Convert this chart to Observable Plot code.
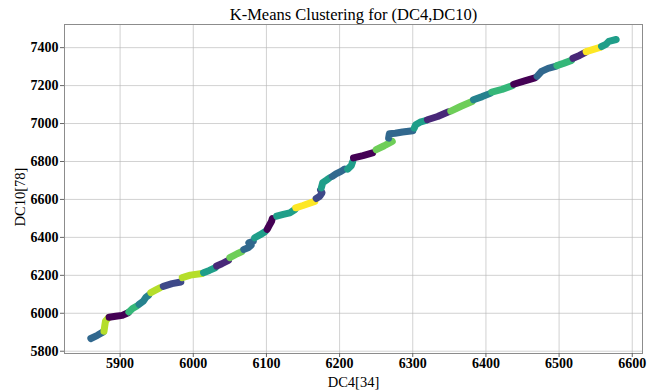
<!DOCTYPE html>
<html><head><meta charset="utf-8">
<script src="https://cdn.jsdelivr.net/npm/d3@7"></script>
<script src="https://cdn.jsdelivr.net/npm/@observablehq/plot@0.6"></script>
<style>
body{margin:0;background:#fff;}
#chart{width:658px;height:391px;}
</style></head><body><div id="chart"></div>
<script>
// DC4[34] values along the trace
const dc4 = [
  5860, 5869, 5877,
  5878, 5879, 5880, 5884,
  5885, 5894, 5903, 5911,
  5912, 5917, 5923,
  5926, 5932, 5935, 5939,
  5942, 5949, 5955,
  5959, 5971, 5983,
  5985, 5996, 6012,
  6014, 6022, 6030,
  6032, 6039, 6048,
  6050, 6060, 6066,
  6069, 6075, 6079, 6076, 6082,
  6084, 6091, 6098,
  6101, 6103, 6107, 6108,
  6114, 6123, 6132, 6139,
  6140, 6150, 6166,
  6168, 6173, 6176, 6174,
  6175, 6177, 6182, 6186,
  6190, 6195, 6202, 6207,
  6211, 6216, 6218,
  6219, 6232, 6245,
  6250, 6261, 6272,
  6267, 6268, 6276, 6286, 6300,
  6302, 6304, 6310, 6318,
  6320, 6334, 6349,
  6352, 6366, 6381,
  6383, 6395, 6406,
  6408, 6422, 6436,
  6438, 6453, 6467,
  6470, 6476, 6485, 6495,
  6497, 6506, 6517,
  6519, 6528, 6536,
  6537, 6547, 6556,
  6558, 6564, 6568, 6578
];
// DC10[78] values along the trace
const dc10 = [
  5867, 5884, 5902,
  5905, 5933, 5958, 5977,
  5979, 5984, 5989, 6003,
  6007, 6025, 6038,
  6047, 6065, 6083, 6095,
  6109, 6123, 6135,
  6142, 6156, 6165,
  6188, 6201, 6210,
  6214, 6226, 6240,
  6249, 6261, 6279,
  6293, 6314, 6324,
  6336, 6345, 6358, 6371, 6380,
  6398, 6413, 6430,
  6442, 6457, 6485, 6499,
  6512, 6521, 6529, 6547,
  6556, 6568, 6590,
  6605, 6617, 6635, 6649,
  6661, 6689, 6702, 6713,
  6722, 6735, 6748, 6760,
  6760, 6778, 6801,
  6819, 6831, 6845,
  6862, 6883, 6906,
  6923, 6946, 6949, 6955, 6962,
  6976, 6994, 7007, 7016,
  7020, 7037, 7062,
  7065, 7091, 7116,
  7125, 7142, 7159,
  7166, 7180, 7199,
  7207, 7225, 7241,
  7249, 7275, 7291, 7301,
  7305, 7317, 7333,
  7344, 7359, 7375,
  7379, 7391, 7401,
  7406, 7417, 7433, 7443
];
// K-Means cluster label of each point
const cluster = [
  3, 3, 3,
  8, 8, 8, 8,
  0, 0, 0, 0,
  6, 6, 6,
  4, 4, 4, 4,
  8, 8, 8,
  2, 2, 2,
  8, 8, 8,
  5, 5, 5,
  1, 1, 1,
  7, 7, 7,
  3, 3, 3, 3, 3,
  5, 5, 5,
  0, 0, 0, 0,
  5, 5, 5, 5,
  9, 9, 9,
  2, 2, 2, 2,
  5, 5, 5, 5,
  3, 3, 3, 3,
  5, 5, 5,
  0, 0, 0,
  7, 7, 7,
  3, 3, 3, 3, 3,
  5, 5, 5, 5,
  1, 1, 1,
  7, 7, 7,
  4, 4, 4,
  6, 6, 6,
  0, 0, 0,
  3, 3, 3, 3,
  6, 6, 6,
  1, 1, 1,
  9, 9, 9,
  5, 5, 5, 5
];
const clusterIds = [0, 1, 2, 3, 4, 5, 6, 7, 8, 9];
const xTicks = [5900, 6000, 6100, 6200, 6300, 6400, 6500, 6600];
const yTicks = [5800, 6000, 6200, 6400, 6600, 6800, 7000, 7200, 7400];
const titleText = "K-Means Clustering for (DC4,DC10)";
const xLabel = "DC4[34]";
const yLabel = "DC10[78]";

const points = dc4.map((x, i) => ({x, y: dc10[i], c: cluster[i]}));
let run = 0;
points.forEach((p, i) => { if (i > 0 && p.c !== points[i - 1].c) run++; p.run = run; });

const serif = "'Liberation Serif', 'DejaVu Serif', serif";
const chart = Plot.plot({
  width: 658, height: 391,
  marginTop: 24, marginRight: 16, marginBottom: 38, marginLeft: 64,
  style: {fontFamily: serif, background: "#fff", color: "#000"},
  x: {domain: [5824, 6614]},
  y: {domain: [5788, 7522]},
  color: {type: "ordinal", domain: clusterIds, scheme: "viridis"},
  marks: [
    Plot.gridX(xTicks, {stroke: "#b8b8b8", strokeOpacity: 0.7, strokeWidth: 0.9}),
    Plot.gridY(yTicks, {stroke: "#b8b8b8", strokeOpacity: 0.7, strokeWidth: 0.9}),
    Plot.frame({stroke: "#8c8c8c", strokeWidth: 1}),
    Plot.axisX(xTicks, {tickSize: 4, tickPadding: 1, tickFormat: "d", fontSize: 14, fontWeight: "bold", label: null, stroke: "#666"}),
    Plot.axisY(yTicks, {tickSize: 4, tickPadding: 2, tickFormat: "d", fontSize: 14, fontWeight: "bold", label: null, stroke: "#666"}),
    Plot.line(points, {x: "x", y: "y", z: "run", stroke: "c", strokeWidth: 7, strokeLinecap: "round", strokeLinejoin: "round"}),
    Plot.text([titleText], {text: d => d, frameAnchor: "top", lineAnchor: "middle", textAnchor: "middle", dy: -10, fontSize: 16.5}),
    Plot.text([xLabel], {text: d => d, frameAnchor: "bottom", lineAnchor: "middle", textAnchor: "middle", dy: 29, fontSize: 14.5}),
    Plot.text([yLabel], {text: d => d, frameAnchor: "left", lineAnchor: "middle", textAnchor: "middle", dx: -44, dy: 8, rotate: -90, fontSize: 14.5})
  ]
});
document.getElementById("chart").appendChild(chart);
</script></body></html>
